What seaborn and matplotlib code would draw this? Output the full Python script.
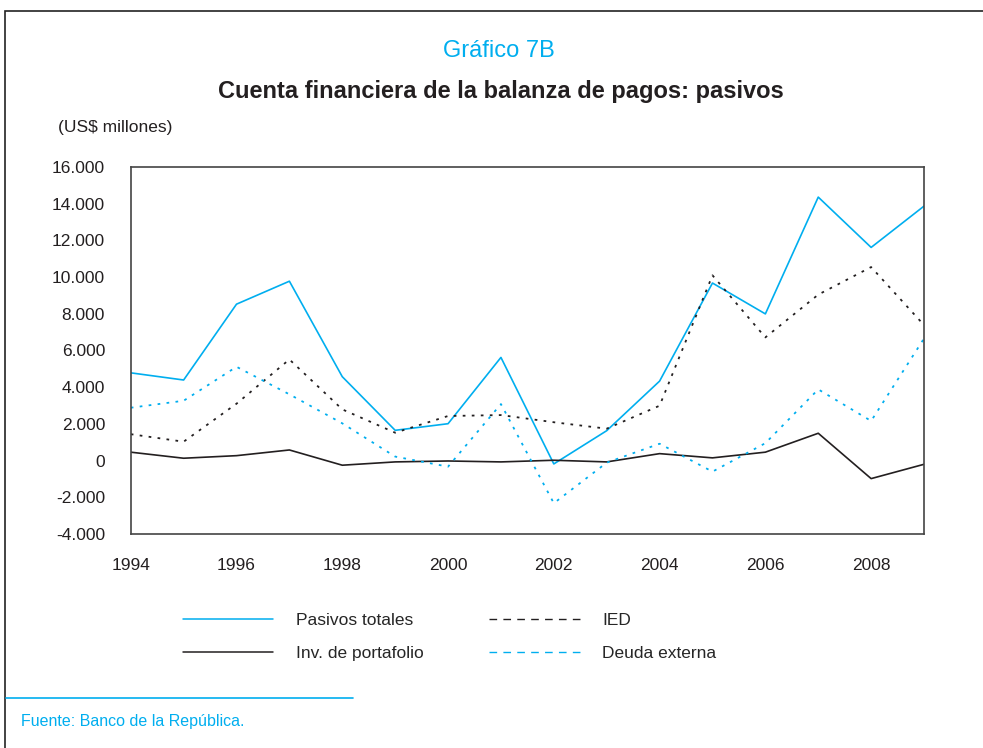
import numpy as np
import pandas as pd
import matplotlib
matplotlib.use("Agg")
import matplotlib.pyplot as plt
from matplotlib.lines import Line2D
from matplotlib.patches import Rectangle
import seaborn as sns

# datos (US$ millones)
years = list(range(1994, 2010))
pasivos_totales = [4780, 4390, 8520, 9770, 4570, 1650, 2010, 5620,
                   -180, 1630, 4330, 9670, 7990, 14350, 11610, 13860]
ied = [1440, 1030, 3100, 5510, 2790, 1520, 2430, 2480,
       2090, 1740, 2990, 10090, 6710, 9040, 10540, 7380]
inv_portafolio = [460, 130, 270, 580, -250, -70, -20, -70,
                  20, -70, 380, 150, 460, 1490, -980, -200]
deuda_externa = [2880, 3260, 5110, 3610, 2030, 220, -330, 3080,
                 -2320, -110, 920, -600, 950, 3880, 2160, 6650]

y_ticks = list(range(-4000, 16001, 2000))
x_labels = [str(y) if y % 2 == 0 else "" for y in years]

BLUE = "#00AEEF"
DARK = "#231F20"

sns.set_style("white")
plt.rcParams["font.family"] = ["Liberation Sans Narrow", "Liberation Sans", "DejaVu Sans"]

fig = plt.figure(figsize=(9.83, 7.48), dpi=100)
ax = fig.add_axes([0.133, 0.286, 0.807, 0.491])

df = pd.DataFrame({"year": years, "pt": pasivos_totales, "ied": ied,
                   "inv": inv_portafolio, "de": deuda_externa})

sns.lineplot(data=df, x="year", y="pt", ax=ax, color=BLUE, lw=1.2)
sns.lineplot(data=df, x="year", y="ied", ax=ax, color=DARK, lw=1.3, linestyle=(0, (1.5, 3.5)))
sns.lineplot(data=df, x="year", y="inv", ax=ax, color=DARK, lw=1.2)
sns.lineplot(data=df, x="year", y="de", ax=ax, color=BLUE, lw=1.3, linestyle=(0, (1.5, 3.5)))

ax.set_xlim(1994, 2009)
ax.set_ylim(-4000, 16000)
ax.set_xticks(years)
ax.set_xticklabels(x_labels)
ax.set_yticks(y_ticks)
ax.set_yticklabels([f"{v:,}".replace(",", ".") for v in y_ticks])
ax.set_xlabel("")
ax.set_ylabel("")
ax.tick_params(axis="x", direction="in", length=4.5, width=1, colors=DARK,
               labelsize=12.5, pad=17.5, top=False)
ax.tick_params(axis="y", direction="in", length=8.5, width=1, colors=DARK,
               labelsize=12.5, pad=18.5, right=False)
for s in ax.spines.values():
    s.set_color("#444444")
    s.set_linewidth(1.2)

# leyenda
handles = [
    Line2D([], [], color=BLUE, lw=1.1),
    Line2D([], [], color=DARK, lw=1.1),
    Line2D([], [], color=DARK, lw=1.0, linestyle=(0, (5.5, 4.5))),
    Line2D([], [], color=BLUE, lw=1.0, linestyle=(0, (5.5, 4.5))),
]
labels = ["Pasivos totales", "Inv. de portafolio", "IED", "Deuda externa"]
fig.legend(handles, labels, ncol=2, frameon=False, loc="upper left",
           bbox_to_anchor=(0.170, 0.202), bbox_transform=fig.transFigure,
           handlelength=5.2, handletextpad=1.3, columnspacing=3.8,
           labelspacing=1.05, fontsize=12.5)

# textos
fig.text(0.508, 0.932, "Gráfico 7B", color=BLUE, fontsize=17, ha="center", va="center")
fig.text(0.51, 0.878, "Cuenta financiera de la balanza de pagos: pasivos",
         fontsize=17, fontweight="bold", color=DARK, ha="center", va="center",
         family=["Liberation Sans", "DejaVu Sans"])
fig.text(0.059, 0.830, "(US$ millones)", fontsize=12.5, color=DARK, ha="left", va="center")
fig.text(0.021, 0.036, "Fuente: Banco de la República.", fontsize=11.5, color=BLUE,
         ha="left", va="center")

# marco y linea de la fuente
fig.add_artist(Rectangle((0.005, -0.1), 1.2, 1.085, transform=fig.transFigure,
                         fill=False, ec="#222222", lw=1.2))
fig.add_artist(Line2D([0.006, 0.359], [0.067, 0.067], transform=fig.transFigure,
                      color=BLUE, lw=1.2))

fig.savefig("out.png", dpi=100)
